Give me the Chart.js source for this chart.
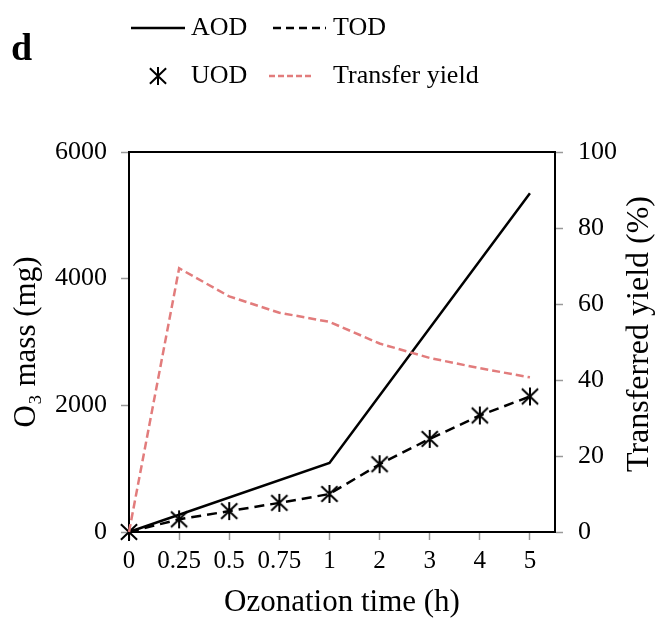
<!DOCTYPE html>
<html>
<head>
<meta charset="utf-8">
<script src="https://cdn.jsdelivr.net/npm/chart.js@4.4.1/dist/chart.umd.min.js"></script>
<style>
  html, body { margin: 0; padding: 0; background: #fff; }
  #wrap { width: 655px; height: 619px; position: relative; }
</style>
</head>
<body>
<div id="wrap"><canvas id="ozoneChart" width="655" height="619"></canvas></div>
<script>
// Dados
var timeLabels = ['0', '0.25', '0.5', '0.75', '1', '2', '3', '4', '5'];
var aodValues = [0, null, null, null, 1090, null, null, null, 5350];
var todValues = [0, 200, 330, 460, 600, 1070, 1470, 1840, 2140];
var uodValues = [0, 200, 330, 460, 600, 1070, 1470, 1840, 2140];
var yieldValues = [0, 69.4, 62, 57.7, 55.3, 49.6, 45.8, 43.1, 40.7];
var massTicks = [0, 2000, 4000, 6000];
var yieldTicks = [0, 20, 40, 60, 80, 100];

var serif = '"Liberation Serif", "Times New Roman", serif';
var pink = 'rgb(226,124,124)';

function toPoints(values) {
    var pts = [];
    values.forEach(function (v, i) {
        if (v !== null) pts.push({ x: i, y: v });
    });
    return pts;
}

// Marcador asterisco (X + linha vertical)
function makeStar(size) {
    var c = document.createElement('canvas');
    c.width = size + 4;
    c.height = size + 4;
    var g = c.getContext('2d');
    var m = c.width / 2, h = size / 2;
    g.strokeStyle = '#000';
    g.lineWidth = 2;
    g.beginPath();
    g.moveTo(m - h * 0.9, m - h * 0.85); g.lineTo(m + h * 0.9, m + h * 0.85);
    g.moveTo(m + h * 0.9, m - h * 0.85); g.lineTo(m - h * 0.9, m + h * 0.85);
    g.moveTo(m, m - h); g.lineTo(m, m + h);
    g.stroke();
    return c;
}
var star = makeStar(18);

// Legenda, moldura superior e título do eixo direito
var extras = {
    id: 'extras',
    afterDraw: function (chart) {
        var c = chart.ctx, a = chart.chartArea;
        c.save();
        c.strokeStyle = '#000';
        c.lineWidth = 2;
        c.beginPath();
        c.moveTo(a.left - 1, a.top);
        c.lineTo(a.right + 1, a.top);
        c.stroke();

        c.fillStyle = '#000';
        c.font = 'bold 38px ' + serif;
        c.textBaseline = 'alphabetic';
        c.fillText('d', 11, 60);

        c.font = '26px ' + serif;
        c.textBaseline = 'middle';
        // AOD
        c.lineWidth = 2.5;
        c.setLineDash([]);
        c.beginPath(); c.moveTo(131, 28); c.lineTo(185, 28); c.stroke();
        c.fillText('AOD', 191, 28);
        // TOD
        c.setLineDash([8, 5]);
        c.beginPath(); c.moveTo(273, 28); c.lineTo(326, 28); c.stroke();
        c.setLineDash([]);
        c.fillText('TOD', 333, 28);
        // UOD
        c.drawImage(star, 158 - star.width / 2, 76 - star.height / 2);
        c.fillText('UOD', 191, 76);
        // Transfer yield
        c.strokeStyle = pink;
        c.lineWidth = 2.5;
        c.setLineDash([6, 3]);
        c.beginPath(); c.moveTo(269, 76); c.lineTo(314, 76); c.stroke();
        c.setLineDash([]);
        c.fillText('Transfer yield', 333, 76);

        // título direito, lido de baixo para cima
        c.font = '32px ' + serif;
        c.textAlign = 'center';
        c.translate(640, 334);
        c.rotate(-Math.PI / 2);
        c.fillText('Transferred yield (%)', 0, 0);
        c.restore();
    }
};

var tickGrid = {
    drawOnChartArea: false,
    drawTicks: true,
    tickLength: 8,
    tickColor: '#999',
    tickWidth: 1.5
};

function plain(v) { return String(v); }

var ctx = document.getElementById('ozoneChart').getContext('2d');
var ozoneChart = new Chart(ctx, {
    type: 'line',
    data: {
        datasets: [{
            label: 'Transfer yield',
            data: toPoints(yieldValues),
            yAxisID: 'y2',
            borderColor: pink,
            borderWidth: 2.5,
            borderDash: [8, 4],
            pointRadius: 0,
            tension: 0,
            clip: false,
            order: 0
        }, {
            label: 'UOD',
            data: toPoints(uodValues),
            yAxisID: 'y',
            showLine: false,
            pointStyle: star,
            pointRadius: 9,
            borderColor: '#000',
            clip: false,
            order: 1
        }, {
            label: 'TOD',
            data: toPoints(todValues),
            yAxisID: 'y',
            borderColor: '#000',
            borderWidth: 2.5,
            borderDash: [10, 6],
            pointRadius: 0,
            tension: 0,
            clip: false,
            order: 2
        }, {
            label: 'AOD',
            data: toPoints(aodValues),
            yAxisID: 'y',
            borderColor: '#000',
            borderWidth: 2.5,
            pointRadius: 0,
            tension: 0,
            clip: false,
            order: 3
        }]
    },
    options: {
        responsive: false,
        animation: false,
        layout: { padding: { left: 0, right: 0, top: 152, bottom: 0 } },
        plugins: {
            legend: { display: false },
            tooltip: { enabled: false }
        },
        scales: {
            x: {
                type: 'linear',
                min: 0,
                max: 8.5,
                afterBuildTicks: function (scale) {
                    scale.ticks = timeLabels.map(function (t, i) { return { value: i }; });
                },
                afterFit: function (scale) { scale.height = 87; },
                ticks: {
                    color: '#000',
                    font: { family: serif, size: 25 },
                    padding: 6,
                    maxRotation: 0,
                    autoSkip: false,
                    callback: function (v) { return timeLabels[v]; }
                },
                grid: tickGrid,
                border: { color: '#000', width: 2 },
                title: {
                    display: true,
                    text: 'Ozonation time (h)',
                    color: '#000',
                    font: { family: serif, size: 31, lineHeight: 1 },
                    padding: { top: 0, bottom: 1 }
                }
            },
            y: {
                position: 'left',
                min: 0,
                max: 6000,
                afterBuildTicks: function (scale) {
                    scale.ticks = massTicks.map(function (v) { return { value: v }; });
                },
                afterFit: function (scale) { scale.width = 129; },
                ticks: {
                    color: '#000',
                    font: { family: serif, size: 26 },
                    padding: 14,
                    callback: plain
                },
                grid: tickGrid,
                border: { color: '#000', width: 2 },
                title: {
                    display: true,
                    text: 'O\u2083 mass (mg)',
                    color: '#000',
                    font: { family: serif, size: 31, lineHeight: 1 },
                    padding: { top: 11, bottom: 0 }
                }
            },
            y2: {
                position: 'right',
                min: 0,
                max: 100,
                afterBuildTicks: function (scale) {
                    scale.ticks = yieldTicks.map(function (v) { return { value: v }; });
                },
                afterFit: function (scale) { scale.width = 100; },
                ticks: {
                    color: '#000',
                    font: { family: serif, size: 26 },
                    padding: 15,
                    callback: plain
                },
                grid: tickGrid,
                border: { color: '#000', width: 2 }
            }
        }
    },
    plugins: [extras]
});
</script>
</body>
</html>
